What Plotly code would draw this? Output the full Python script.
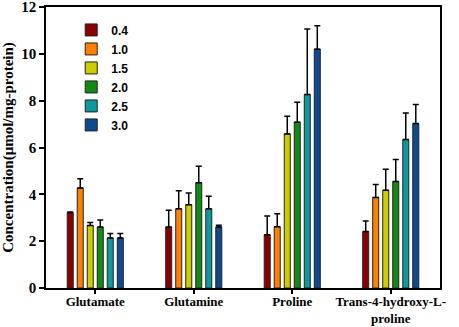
import plotly.graph_objects as go

categories = ["Glutamate", "Glutamine", "Proline", "Trans-4-hydroxy-L-<br>proline"]
series_names = ["0.4", "1.0", "1.5", "2.0", "2.5", "3.0"]
values = [
    [3.22, 2.60, 2.27, 2.41],
    [4.27, 3.38, 2.62, 3.87],
    [2.67, 3.56, 6.58, 4.17],
    [2.60, 4.50, 7.08, 4.55],
    [2.13, 3.38, 8.26, 6.34],
    [2.13, 2.60, 10.20, 7.02],
]
errors = [
    [0.03, 0.72, 0.81, 0.45],
    [0.40, 0.77, 0.55, 0.55],
    [0.13, 0.50, 0.75, 0.90],
    [0.30, 0.70, 0.85, 0.94],
    [0.20, 0.54, 2.80, 1.13],
    [0.20, 0.08, 1.00, 0.82],
]
colors = ["#8B0000", "#FF8000", "#CCCC00", "#138A13", "#0E9A9A", "#0E4A90"]
y_ticks = [0, 2, 4, 6, 8, 10, 12]

fig = go.Figure()
for name, vals, errs, col in zip(series_names, values, errors, colors):
    fig.add_trace(go.Bar(
        x=categories, y=vals, name=name,
        marker=dict(color=col, line=dict(color="#222222", width=1)),
        error_y=dict(type="data", array=errs, symmetric=False, arrayminus=[0]*len(errs),
                     color="black", thickness=1.5, width=3),
    ))

serif = "Liberation Serif"
fig.update_layout(
    width=459, height=327,
    margin=dict(l=46, r=19, t=7, b=39),
    paper_bgcolor="white", plot_bgcolor="white",
    barmode="group", bargap=0.39, bargroupgap=0.4,
    showlegend=True,
    legend=dict(x=0.064, y=0.97, xanchor="left", yanchor="top",
                bgcolor="rgba(0,0,0,0)", borderwidth=0,
                font=dict(family="Liberation Sans", size=12, color="black", weight="bold"),
                itemwidth=30, tracegroupgap=0),
    xaxis=dict(showline=True, linecolor="black", linewidth=1.5, mirror=True,
               ticks="outside", ticklen=4, tickwidth=1.5, tickcolor="black",
               tickfont=dict(family=serif, size=13, color="black", weight="bold"),
               automargin=False, showgrid=False, range=[-0.5, 3.5],
               ticklabeloverflow="allow", ticklabelstandoff=-3),
    yaxis=dict(range=[0, 12], tickvals=y_ticks, ticktext=[str(t) for t in y_ticks],
               showline=True, linecolor="black", linewidth=1.5,
               mirror=True, ticks="outside", ticklen=5, tickwidth=1.5, tickcolor="black",
               tickfont=dict(family=serif, size=15, color="black", weight="bold"),
               showgrid=False, zeroline=False, automargin=False,
               ticklabeloverflow="allow",
               title=dict(text="Concentration(μmol/mg-protein)", standoff=4,
                          font=dict(family=serif, size=15, color="black", weight="bold"))),
)
fig.write_html("out.html", post_script="document.body.style.margin='0';",
               config={"displayModeBar": False})
